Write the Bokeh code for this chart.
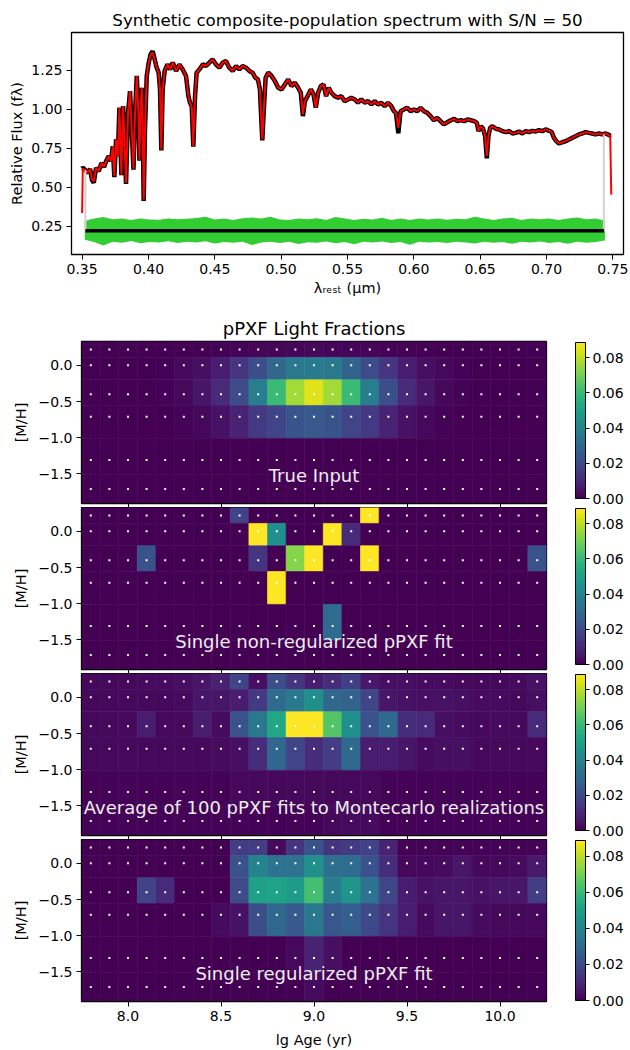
from bokeh.plotting import figure
from bokeh.layouts import column
from bokeh.models import (LinearColorMapper, ColorBar, FixedTicker, Range1d,
                          PrintfTickFormatter, ColumnDataSource, Label,
                          CustomJSTickFormatter)
from bokeh.palettes import Viridis256
from bokeh.embed import file_html
from bokeh.resources import INLINE

FONT = "DejaVu Sans"
TICK_FS = "14px"
LABEL_FS = "14.5px"
TITLE_FS = "16.7px"
HM_TITLE_FS = "18px"
PANEL_FS = "18px"

# ---------------- spectrum data (micron, relative flux) ----------------
wave = [0.3500, 0.3505, 0.3525, 0.3543, 0.3560, 0.3575, 0.3588, 0.3605, 0.3625, 0.3646,
        0.3666, 0.3681, 0.3701, 0.3718, 0.3731, 0.3743, 0.3756, 0.3769, 0.3781, 0.3796,
        0.3809, 0.3821, 0.3831, 0.3846, 0.3861, 0.3874, 0.3887, 0.3899, 0.3912, 0.3924,
        0.3932, 0.3942, 0.3949, 0.3957, 0.3964, 0.3974, 0.3987, 0.4002, 0.4017, 0.4032,
        0.4047, 0.4062, 0.4077, 0.4087, 0.4097, 0.4107, 0.4122, 0.4143, 0.4163, 0.4183,
        0.4208, 0.4233, 0.4258, 0.4283, 0.4301, 0.4313, 0.4326, 0.4338, 0.4351, 0.4363,
        0.4384, 0.4409, 0.4434, 0.4459, 0.4484, 0.4509, 0.4534, 0.4559, 0.4584, 0.4609,
        0.4635, 0.4660, 0.4685, 0.4710, 0.4735, 0.4760, 0.4785, 0.4805, 0.4825, 0.4840,
        0.4848, 0.4858, 0.4868, 0.4883, 0.4903, 0.4928, 0.4953, 0.4978, 0.5003, 0.5028,
        0.5053, 0.5078, 0.5103, 0.5128, 0.5148, 0.5164, 0.5179, 0.5199, 0.5224, 0.5244,
        0.5261, 0.5279, 0.5299, 0.5319, 0.5339, 0.5359, 0.5379, 0.5404, 0.5429, 0.5454,
        0.5479, 0.5504, 0.5529, 0.5554, 0.5579, 0.5604, 0.5630, 0.5655, 0.5680, 0.5705,
        0.5730, 0.5755, 0.5780, 0.5805, 0.5830, 0.5850, 0.5865, 0.5883, 0.5900, 0.5925,
        0.5950, 0.5975, 0.6000, 0.6026, 0.6051, 0.6076, 0.6101, 0.6126, 0.6151, 0.6176,
        0.6201, 0.6226, 0.6254, 0.6279, 0.6304, 0.6329, 0.6354, 0.6379, 0.6404, 0.6429,
        0.6455, 0.6475, 0.6487, 0.6505, 0.6522, 0.6537, 0.6550, 0.6562, 0.6575, 0.6593,
        0.6618, 0.6643, 0.6668, 0.6693, 0.6718, 0.6743, 0.6768, 0.6793, 0.6818, 0.6843,
        0.6868, 0.6893, 0.6918, 0.6943, 0.6968, 0.6993, 0.7019, 0.7039, 0.7056, 0.7074,
        0.7094, 0.7119, 0.7144, 0.7169, 0.7194, 0.7219, 0.7244, 0.7269, 0.7294, 0.7319,
        0.7344, 0.7369, 0.7394, 0.7420, 0.7445, 0.7470, 0.7480, 0.7488]

bestfit = [0.335, 0.618, 0.609, 0.592, 0.618, 0.549, 0.538, 0.624, 0.603, 0.656,
           0.630, 0.667, 0.699, 0.667, 0.763, 0.571, 0.806, 0.699, 1.009, 0.581,
           1.019, 0.763, 0.528, 0.976, 1.115, 0.870, 0.618, 0.976, 1.212, 0.976,
           0.677, 1.019, 1.137, 0.870, 0.421, 0.870, 1.212, 1.297, 1.350, 1.361,
           1.318, 1.265, 1.233, 1.126, 0.741, 1.126, 1.244, 1.286, 1.254, 1.297,
           1.244, 1.286, 1.254, 1.212, 1.083, 1.041, 1.019, 0.763, 1.083, 1.233,
           1.254, 1.286, 1.276, 1.297, 1.318, 1.286, 1.265, 1.297, 1.308, 1.265,
           1.244, 1.276, 1.254, 1.276, 1.265, 1.244, 1.233, 1.201, 1.190, 1.126,
           0.976, 0.806, 0.976, 1.201, 1.233, 1.212, 1.179, 1.137, 1.126, 1.158,
           1.190, 1.147, 1.169, 1.137, 1.105, 0.966, 1.051, 1.083, 1.126, 1.094,
           1.009, 1.105, 1.147, 1.158, 1.083, 1.137, 1.105, 1.083, 1.073, 1.083,
           1.051, 1.062, 1.073, 1.062, 1.041, 1.062, 1.041, 1.051, 1.030, 1.051,
           1.030, 1.041, 1.019, 1.041, 1.019, 0.987, 0.976, 0.880, 0.987, 0.998,
           1.009, 0.987, 0.998, 0.987, 1.009, 0.987, 0.976, 0.955, 0.929, 0.944,
           0.923, 0.902, 0.917, 0.929, 0.938, 0.923, 0.929, 0.923, 0.934, 0.929,
           0.923, 0.912, 0.859, 0.891, 0.874, 0.827, 0.699, 0.827, 0.880, 0.891,
           0.874, 0.870, 0.859, 0.853, 0.859, 0.844, 0.848, 0.857, 0.844, 0.859,
           0.853, 0.861, 0.857, 0.865, 0.859, 0.870, 0.861, 0.853, 0.816, 0.795,
           0.780, 0.788, 0.795, 0.806, 0.816, 0.827, 0.838, 0.844, 0.853, 0.848,
           0.844, 0.838, 0.844, 0.838, 0.844, 0.835, 0.827, 0.453]

galaxy = [0.620, 0.625, 0.609, 0.592, 0.618, 0.545, 0.530, 0.624, 0.603, 0.656,
          0.630, 0.667, 0.699, 0.667, 0.763, 0.565, 0.806, 0.699, 1.009, 0.578,
          1.019, 0.763, 0.522, 0.976, 1.115, 0.870, 0.612, 0.976, 1.212, 0.976,
          0.670, 1.019, 1.137, 0.870, 0.412, 0.870, 1.212, 1.297, 1.352, 1.370,
          1.318, 1.265, 1.233, 1.126, 0.735, 1.126, 1.244, 1.286, 1.254, 1.297,
          1.244, 1.286, 1.254, 1.212, 1.083, 1.041, 1.019, 0.760, 1.083, 1.233,
          1.254, 1.286, 1.276, 1.297, 1.318, 1.286, 1.265, 1.297, 1.308, 1.265,
          1.244, 1.276, 1.254, 1.276, 1.265, 1.244, 1.233, 1.201, 1.190, 1.126,
          0.976, 0.800, 0.976, 1.201, 1.233, 1.212, 1.179, 1.137, 1.126, 1.158,
          1.190, 1.147, 1.169, 1.137, 1.105, 0.955, 1.051, 1.083, 1.126, 1.094,
          1.009, 1.105, 1.147, 1.158, 1.083, 1.137, 1.105, 1.083, 1.073, 1.083,
          1.051, 1.062, 1.073, 1.062, 1.041, 1.062, 1.041, 1.051, 1.030, 1.051,
          1.030, 1.041, 1.019, 1.041, 1.019, 0.987, 0.976, 0.845, 0.987, 0.998,
          1.009, 0.987, 0.998, 0.987, 1.009, 0.987, 0.976, 0.955, 0.929, 0.944,
          0.923, 0.902, 0.917, 0.929, 0.938, 0.923, 0.929, 0.923, 0.934, 0.929,
          0.923, 0.912, 0.859, 0.891, 0.874, 0.827, 0.685, 0.827, 0.880, 0.891,
          0.874, 0.870, 0.859, 0.853, 0.859, 0.844, 0.848, 0.857, 0.844, 0.859,
          0.853, 0.861, 0.857, 0.865, 0.859, 0.870, 0.861, 0.853, 0.816, 0.795,
          0.780, 0.788, 0.795, 0.806, 0.816, 0.827, 0.838, 0.844, 0.853, 0.848,
          0.844, 0.838, 0.844, 0.838, 0.844, 0.835, 0.830, 0.830]

# residuals (shifted to the baseline), drawn as a band
res_wave = [0.352, 0.359, 0.366, 0.373, 0.380, 0.387, 0.394, 0.401, 0.408, 0.415,
            0.422, 0.429, 0.436, 0.443, 0.450, 0.457, 0.464, 0.471, 0.478, 0.485,
            0.492, 0.499, 0.506, 0.513, 0.520, 0.527, 0.534, 0.541, 0.548, 0.555,
            0.562, 0.569, 0.576, 0.583, 0.590, 0.597, 0.604, 0.611, 0.618, 0.625,
            0.632, 0.639, 0.646, 0.653, 0.660, 0.667, 0.674, 0.681, 0.688, 0.695,
            0.702, 0.709, 0.716, 0.723, 0.730, 0.737, 0.744]
res_hi = [0.285, 0.300, 0.310, 0.296, 0.300, 0.290, 0.301, 0.294, 0.292, 0.300,
          0.295, 0.299, 0.304, 0.312, 0.294, 0.300, 0.291, 0.302, 0.306, 0.300,
          0.311, 0.294, 0.290, 0.300, 0.296, 0.302, 0.290, 0.310, 0.300, 0.291,
          0.299, 0.294, 0.305, 0.291, 0.300, 0.290, 0.301, 0.294, 0.300, 0.292,
          0.299, 0.295, 0.311, 0.300, 0.290, 0.301, 0.305, 0.291, 0.300, 0.295,
          0.300, 0.291, 0.300, 0.306, 0.295, 0.301, 0.288]
res_lo = [0.165, 0.150, 0.128, 0.152, 0.145, 0.156, 0.142, 0.150, 0.147, 0.155,
          0.143, 0.151, 0.146, 0.154, 0.141, 0.150, 0.145, 0.152, 0.130, 0.146,
          0.151, 0.144, 0.152, 0.137, 0.149, 0.145, 0.153, 0.142, 0.150, 0.136,
          0.151, 0.146, 0.153, 0.144, 0.150, 0.133, 0.152, 0.146, 0.150, 0.143,
          0.151, 0.147, 0.140, 0.152, 0.145, 0.150, 0.138, 0.151, 0.146, 0.153,
          0.144, 0.150, 0.139, 0.151, 0.145, 0.150, 0.160]
baseline = 0.222
fit_limits = [0.3525, 0.7432]
fit_limit_flux = [0.609, 0.838]

# ---------------- population grid ----------------
ages = [7.8, 7.9, 8.0, 8.1, 8.2, 8.3, 8.4, 8.5, 8.6, 8.7, 8.8, 8.9, 9.0,
        9.1, 9.2, 9.3, 9.4, 9.5, 9.6, 9.7, 9.8, 9.9, 10.0, 10.1, 10.2]
metals = [0.22, 0.00, -0.40, -0.71, -1.31, -1.71]   # rows, top to bottom
age_ticks = [8.0, 8.5, 9.0, 9.5, 10.0]
metal_ticks = [0.0, -0.5, -1.0, -1.5]
cbar_ticks = [0.00, 0.02, 0.04, 0.06, 0.08]
vmax = 0.0887

true_w = [
    [0, 0, 0, 0, 0, 0, 0.0005, 0.0008, 0.0010, 0.0013, 0.0015, 0.0017, 0.0018, 0.0017, 0.0015, 0.0013, 0.0010, 0.0008, 0.0005, 0, 0, 0, 0, 0, 0],
    [0, 0, 0, 0, 0.0009, 0.0018, 0.0035, 0.0071, 0.0133, 0.0213, 0.0293, 0.0355, 0.0364, 0.0355, 0.0284, 0.0204, 0.0133, 0.0071, 0.0035, 0.0018, 0.0009, 0, 0, 0, 0],
    [0, 0, 0, 0, 0.0009, 0.0018, 0.0053, 0.0106, 0.0204, 0.0381, 0.0603, 0.0763, 0.0843, 0.0763, 0.0603, 0.0381, 0.0213, 0.0106, 0.0053, 0.0018, 0.0009, 0, 0, 0, 0],
    [0, 0, 0, 0, 0, 0.0009, 0.0018, 0.0044, 0.0089, 0.0151, 0.0186, 0.0231, 0.0248, 0.0231, 0.0186, 0.0151, 0.0089, 0.0044, 0.0018, 0.0009, 0, 0, 0, 0, 0],
    [0] * 25,
    [0] * 25,
]
nonreg_w = [
    [0, 0, 0, 0, 0, 0, 0, 0, 0.0177, 0, 0, 0, 0, 0, 0, 0.1200, 0, 0, 0, 0, 0, 0, 0, 0, 0],
    [0, 0, 0, 0, 0, 0, 0, 0, 0, 0.1100, 0.0444, 0, 0, 0.1150, 0.0106, 0, 0, 0, 0, 0, 0, 0, 0, 0, 0],
    [0, 0, 0, 0.0222, 0, 0, 0, 0, 0, 0.0133, 0, 0.0727, 0.1300, 0, 0, 0.1050, 0, 0, 0, 0, 0, 0, 0, 0, 0.0222],
    [0, 0, 0, 0, 0, 0, 0, 0, 0, 0, 0.1400, 0, 0, 0, 0, 0, 0, 0, 0, 0, 0, 0, 0, 0, 0],
    [0, 0, 0, 0, 0, 0, 0, 0, 0, 0, 0, 0, 0, 0.0310, 0, 0, 0, 0, 0, 0, 0, 0, 0, 0, 0],
    [0] * 25,
]
mc_w = [
    [0.0018, 0.0018, 0.0018, 0.0027, 0.0027, 0.0035, 0.0053, 0.0089, 0.0177, 0.0035, 0.0213, 0.0133, 0.0071, 0.0115, 0.0168, 0.0062, 0.0035, 0.0035, 0.0027, 0.0027, 0.0018, 0.0018, 0.0018, 0.0027, 0.0044],
    [0.0018, 0.0018, 0.0018, 0.0018, 0.0018, 0.0027, 0.0053, 0.0053, 0.0071, 0.0151, 0.0310, 0.0355, 0.0444, 0.0293, 0.0284, 0.0186, 0.0053, 0.0044, 0.0035, 0.0044, 0.0035, 0.0027, 0.0027, 0.0018, 0.0035],
    [0.0018, 0.0018, 0.0018, 0.0071, 0.0018, 0.0018, 0.0071, 0.0027, 0.0222, 0.0355, 0.0532, 0.0950, 0.0940, 0.0648, 0.0444, 0.0222, 0.0302, 0.0115, 0.0106, 0.0035, 0.0027, 0.0018, 0.0027, 0.0018, 0.0106],
    [0.0018, 0.0018, 0.0018, 0.0018, 0.0018, 0.0018, 0.0018, 0.0027, 0.0035, 0.0115, 0.0293, 0.0186, 0.0115, 0.0160, 0.0302, 0.0071, 0.0071, 0.0053, 0.0027, 0.0035, 0.0035, 0.0018, 0.0018, 0.0018, 0.0018],
    [0.0009, 0.0009, 0.0009, 0.0009, 0.0009, 0.0009, 0.0009, 0.0009, 0.0018, 0.0018, 0.0018, 0.0018, 0.0018, 0.0018, 0.0018, 0.0018, 0.0009, 0.0009, 0.0009, 0.0009, 0.0009, 0.0009, 0.0009, 0.0009, 0.0009],
    [0.0009, 0.0009, 0.0009, 0.0009, 0.0009, 0.0009, 0.0009, 0.0009, 0.0009, 0.0009, 0.0009, 0.0009, 0.0009, 0.0018, 0.0027, 0.0027, 0.0009, 0.0009, 0.0009, 0.0009, 0.0009, 0.0009, 0.0009, 0.0009, 0.0009],
]
reg_w = [
    [0, 0, 0, 0, 0, 0, 0, 0, 0.0160, 0.0160, 0.0027, 0.0133, 0.0222, 0.0133, 0.0151, 0.0177, 0.0089, 0.0009, 0.0009, 0.0009, 0.0009, 0.0009, 0.0009, 0.0009, 0.0009],
    [0, 0, 0, 0, 0, 0, 0, 0, 0.0222, 0.0399, 0.0337, 0.0337, 0.0444, 0.0328, 0.0319, 0.0222, 0.0115, 0.0018, 0.0018, 0.0027, 0.0053, 0.0018, 0.0018, 0.0027, 0.0062],
    [0, 0, 0, 0.0177, 0.0106, 0, 0, 0, 0.0204, 0.0506, 0.0514, 0.0488, 0.0621, 0.0373, 0.0461, 0.0337, 0.0186, 0.0071, 0.0044, 0.0053, 0.0053, 0.0044, 0.0053, 0.0053, 0.0160],
    [0, 0, 0, 0, 0, 0, 0, 0.0027, 0.0044, 0.0213, 0.0302, 0.0248, 0.0355, 0.0240, 0.0266, 0.0195, 0.0133, 0.0071, 0.0027, 0.0053, 0.0053, 0.0027, 0.0018, 0.0018, 0.0018],
    [0, 0, 0, 0, 0, 0, 0, 0, 0, 0, 0, 0.0018, 0.0089, 0.0035, 0, 0, 0, 0, 0, 0, 0, 0, 0, 0, 0],
    [0, 0, 0, 0, 0, 0, 0, 0, 0, 0, 0, 0, 0.0027, 0, 0, 0, 0, 0, 0, 0, 0, 0, 0, 0, 0],
]
panel_labels = ["True Input", "Single non-regularized pPXF fit",
                "Average of 100 pPXF fits to Montecarlo realizations",
                "Single regularized pPXF fit"]


def style(p):
    p.xgrid.visible = False
    p.ygrid.visible = False
    p.outline_line_color = "black"
    p.outline_line_width = 1.3
    p.background_fill_color = "white"
    p.border_fill_color = "white"
    for ax in p.axis:
        ax.major_label_text_font = FONT
        ax.major_label_text_font_size = TICK_FS
        ax.major_label_text_color = "black"
        ax.axis_label_text_font = FONT
        ax.axis_label_text_font_size = LABEL_FS
        ax.axis_label_text_font_style = "normal"
        ax.axis_label_text_color = "black"
        ax.major_tick_in = 0
        ax.major_tick_out = 5
        ax.major_tick_line_color = "black"
        ax.minor_tick_line_color = None
        ax.axis_line_color = "black"
        ax.major_label_standoff = 4


def minus_fmt(nd):
    return CustomJSTickFormatter(
        code="return tick.toFixed(%d).replace('-', '\u2212');" % nd)


# ---------------- spectrum figure ----------------
sp = figure(width=630, height=300, x_range=Range1d(0.342, 0.758),
            y_range=Range1d(0.07, 1.49), output_backend="svg",
            toolbar_location=None, min_border_left=71, min_border_right=7,
            min_border_top=32, min_border_bottom=46, frame_align=False)
sp.line(wave, galaxy, line_color="black", line_width=4.5)
sp.varea(x=res_wave, y1=res_lo, y2=res_hi, fill_color="limegreen")
sp.line(wave, bestfit, line_color="red", line_width=2)
for xl, fl in zip(fit_limits, fit_limit_flux):
    sp.line([xl, xl], [baseline, fl], line_color="lightgray", line_width=2)
sp.line(fit_limits, [baseline, baseline], line_color="black", line_width=3.5)
sp.title.text = "Synthetic composite-population spectrum with S/N = 50"
sp.title.align = "center"
sp.title.text_font = FONT
sp.title.text_font_size = TITLE_FS
sp.title.text_font_style = "normal"
sp.title.text_color = "black"
sp.title.standoff = 6
sp.xaxis.axis_label = "λᵣₑₛₜ (μm)"
sp.yaxis.axis_label = "Relative Flux (fλ)"
sp.xaxis.ticker = FixedTicker(ticks=[0.35, 0.40, 0.45, 0.50, 0.55, 0.60, 0.65, 0.70, 0.75])
sp.yaxis.ticker = FixedTicker(ticks=[0.25, 0.50, 0.75, 1.00, 1.25])
sp.xaxis.formatter = minus_fmt(2)
sp.yaxis.formatter = minus_fmt(2)
style(sp)
sp.xaxis.axis_label_standoff = 3
sp.yaxis.axis_label_standoff = 3

# ---------------- heatmaps ----------------
mapper = LinearColorMapper(palette=Viridis256, low=0.0, high=vmax)

age_half = (ages[1] - ages[0]) / 2
m_edges = [metals[0] + (metals[0] - metals[1]) / 2]
for a, b in zip(metals[:-1], metals[1:]):
    m_edges.append((a + b) / 2)
m_edges.append(metals[-1] - (metals[-2] - metals[-1]) / 2)

panels = []
weights_all = [true_w, nonreg_w, mc_w, reg_w]
for k, (wts, lab) in enumerate(zip(weights_all, panel_labels)):
    first = k == 0
    last = k == 3
    top_b = 41 if first else 0
    bot_b = 49 if last else 4
    h = top_b + 162 + bot_b
    p = figure(width=630, height=h, x_range=Range1d(ages[0] - age_half, ages[-1] + age_half),
               y_range=Range1d(m_edges[-1], m_edges[0]), output_backend="svg",
               toolbar_location=None, min_border_left=81, min_border_right=84,
               min_border_top=top_b, min_border_bottom=bot_b, frame_align=False)
    L, R, B, T, W, XC, YC = [], [], [], [], [], [], []
    for r, m in enumerate(metals):
        for c, a in enumerate(ages):
            L.append(a - age_half)
            R.append(a + age_half)
            T.append(m_edges[r])
            B.append(m_edges[r + 1])
            W.append(wts[r][c])
            XC.append(a)
            YC.append(m)
    src = ColumnDataSource(dict(left=L, right=R, bottom=B, top=T, w=W, x=XC, y=YC))
    p.quad(left="left", right="right", bottom="bottom", top="top", source=src,
           fill_color={"field": "w", "transform": mapper},
           line_color={"field": "w", "transform": mapper}, line_width=0.6)
    p.scatter(x="x", y="y", source=src, marker="square", size=2,
              fill_color="white", line_color=None)
    p.add_layout(Label(x=9.0, y=-1.52, text=lab, text_align="center",
                       text_baseline="alphabetic", text_color="#eeeeee",
                       text_font=FONT, text_font_size=PANEL_FS))
    p.yaxis.axis_label = "[M/H]"
    p.yaxis.ticker = FixedTicker(ticks=metal_ticks)
    p.yaxis.formatter = minus_fmt(1)
    p.xaxis.ticker = FixedTicker(ticks=age_ticks)
    p.xaxis.formatter = minus_fmt(1)
    if last:
        p.xaxis.axis_label = "lg Age (yr)"
    if first:
        p.title.text = "pPXF Light Fractions"
        p.title.align = "center"
        p.title.text_font = FONT
        p.title.text_font_size = HM_TITLE_FS
        p.title.text_font_style = "normal"
        p.title.text_color = "black"
        p.title.standoff = 6
    style(p)
    if not last:
        # shared x axis: ticks only, labels hidden
        p.xaxis.major_label_text_font_size = "0px"
        p.xaxis.major_label_text_alpha = 0
        p.xaxis.major_label_standoff = 0
        p.xaxis.major_tick_out = 4
    p.yaxis.axis_label_standoff = 7
    p.xaxis.axis_label_standoff = 8
    bar_h = 160 if last else 156
    bar_y = 1 if last else 5
    cb = ColorBar(color_mapper=mapper, width=10, height=bar_h, location=(29, bar_y),
                  padding=0, margin=0,
                  ticker=FixedTicker(ticks=cbar_ticks),
                  formatter=PrintfTickFormatter(format="%.2f"),
                  major_tick_in=0, major_tick_out=4, major_tick_line_color="black",
                  minor_tick_line_color=None, label_standoff=3,
                  major_label_text_font=FONT, major_label_text_font_size=TICK_FS,
                  major_label_text_color="black", bar_line_color="black",
                  bar_line_width=1, background_fill_color=None)
    p.add_layout(cb, "right")
    panels.append(p)

layout = column(sp, *panels, spacing=0)
open("out.html", "w").write(file_html(layout, INLINE))
